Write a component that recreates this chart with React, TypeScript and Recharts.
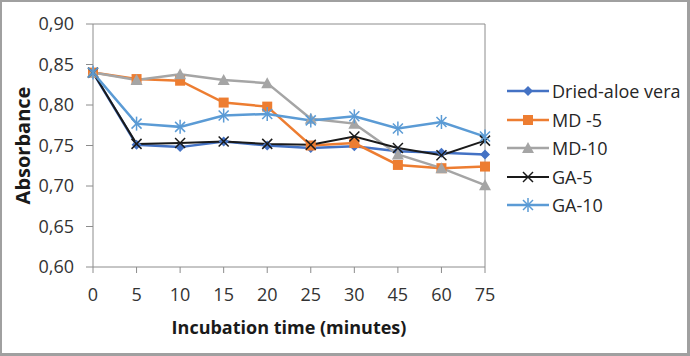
import { LineChart, Line, XAxis, YAxis, ReferenceLine } from 'recharts'

const times = ['0', '5', '10', '15', '20', '25', '30', '45', '60', '75']
const driedAloeVera = [0.84, 0.751, 0.748, 0.755, 0.75, 0.747, 0.749, 0.743, 0.741, 0.739]
const md5 = [0.84, 0.832, 0.83, 0.803, 0.798, 0.75, 0.753, 0.726, 0.722, 0.724]
const md10 = [0.84, 0.831, 0.838, 0.831, 0.827, 0.783, 0.777, 0.739, 0.722, 0.701]
const ga5 = [0.84, 0.752, 0.753, 0.755, 0.752, 0.751, 0.761, 0.747, 0.738, 0.756]
const ga10 = [0.84, 0.777, 0.773, 0.787, 0.789, 0.781, 0.786, 0.771, 0.779, 0.761]
const yTicks = [0.6, 0.65, 0.7, 0.75, 0.8, 0.85, 0.9]

const data = times.map((t, i) => ({
    time: t,
    dried: driedAloeVera[i],
    md5: md5[i],
    md10: md10[i],
    ga5: ga5[i],
    ga10: ga10[i],
}))

const FONT = '"Open Sans", sans-serif'
const AXIS = '#8c8c8c'

type Mark = 'diamond' | 'square' | 'triangle' | 'x' | 'star'

const series: { key: string; name: string; color: string; mark: Mark; width: number }[] = [
    { key: 'dried', name: 'Dried-aloe vera', color: '#4472c4', mark: 'diamond', width: 2.5 },
    { key: 'md5', name: 'MD -5', color: '#ed7d31', mark: 'square', width: 2.5 },
    { key: 'md10', name: 'MD-10', color: '#a5a5a5', mark: 'triangle', width: 2.5 },
    { key: 'ga5', name: 'GA-5', color: '#1a1a1a', mark: 'x', width: 2 },
    { key: 'ga10', name: 'GA-10', color: '#5b9bd5', mark: 'star', width: 2.5 },
]

function marker(mark: Mark, color: string, cx: number, cy: number, key?: any) {
    if (mark === 'diamond')
        return <polygon key={key} points={`${cx},${cy - 5} ${cx + 5},${cy} ${cx},${cy + 5} ${cx - 5},${cy}`} fill={color} />
    if (mark === 'square')
        return <rect key={key} x={cx - 5} y={cy - 5} width={10} height={10} fill={color} />
    if (mark === 'triangle')
        return <polygon key={key} points={`${cx},${cy - 6} ${cx + 6},${cy + 5} ${cx - 6},${cy + 5}`} fill={color} />
    if (mark === 'x')
        return (
            <g key={key} stroke={color} strokeWidth={1.5}>
                <line x1={cx - 5} y1={cy - 5} x2={cx + 5} y2={cy + 5} />
                <line x1={cx - 5} y1={cy + 5} x2={cx + 5} y2={cy - 5} />
            </g>
        )
    return (
        <g key={key} stroke={color} strokeWidth={1.5}>
            <line x1={cx - 5} y1={cy - 5} x2={cx + 5} y2={cy + 5} />
            <line x1={cx - 5} y1={cy + 5} x2={cx + 5} y2={cy - 5} />
            <line x1={cx} y1={cy - 7} x2={cx} y2={cy + 7} />
        </g>
    )
}

function LegendBox() {
    return (
        <div style={{ position: 'absolute', left: 505, top: 77, fontFamily: FONT, fontSize: 18, color: '#262626' }}>
            {series.map((s) => (
                <div key={s.key} style={{ display: 'flex', alignItems: 'center', height: 28.5, whiteSpace: 'nowrap' }}>
                    <svg width={47} height={16}>
                        <line x1={2} y1={8} x2={44} y2={8} stroke={s.color} strokeWidth={s.width} />
                        {marker(s.mark, s.color, 23, 8)}
                    </svg>
                    <span>{s.name}</span>
                </div>
            ))}
        </div>
    )
}

export default function App() {
    return (
        <div style={{ position: 'absolute', left: 0, top: 0, width: 690, height: 356, background: '#fff' }}>
            <LineChart width={690} height={356} data={data} margin={{ top: 24, right: 205, bottom: 20, left: 0 }}>
                <XAxis
                    dataKey="time"
                    stroke={AXIS}
                    tickSize={6}
                    tickMargin={15}
                    height={69}
                    tick={{ fill: '#333', fontSize: 18, fontFamily: FONT }}
                    label={{ value: 'Incubation time (minutes)', position: 'insideBottom', offset: 2, style: { fill: '#1a1a1a', fontSize: 18, fontWeight: 700, fontFamily: FONT } }}
                />
                <YAxis
                    domain={[0.6, 0.9]}
                    ticks={yTicks}
                    interval={0}
                    width={93}
                    stroke={AXIS}
                    tickSize={7}
                    tickMargin={12}
                    tickFormatter={(v: number) => v.toFixed(2).replace('.', ',')}
                    tick={{ fill: '#333', fontSize: 18, fontFamily: FONT }}
                    label={{ value: 'Absorbance', angle: -90, position: 'insideLeft', offset: 23, style: { textAnchor: 'middle', fill: '#1a1a1a', fontSize: 20, fontWeight: 700, fontFamily: FONT } }}
                />
                <ReferenceLine y={0.9} stroke={AXIS} />
                <ReferenceLine x="75" stroke={AXIS} />
                {series.map((s) => (
                    <Line
                        key={s.key}
                        dataKey={s.key}
                        name={s.name}
                        stroke={s.color}
                        strokeWidth={s.width}
                        isAnimationActive={false}
                        dot={(p: any) => marker(s.mark, s.color, p.cx, p.cy, p.index)}
                        activeDot={false}
                    />
                ))}
            </LineChart>
            <LegendBox />
            <div
                style={{
                    position: 'absolute',
                    inset: 0,
                    borderStyle: 'solid',
                    borderColor: '#a0a0a0',
                    borderWidth: '2px 3px 3px 2px',
                    pointerEvents: 'none',
                }}
            />
        </div>
    )
}
